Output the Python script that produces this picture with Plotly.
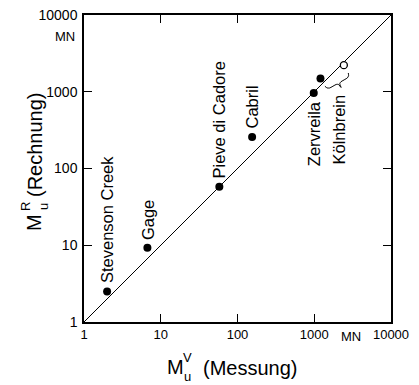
import numpy as np
import plotly.graph_objects as go

# data: measured (x) vs computed (y) ultimate moment, MN
names = ["Stevenson Creek", "Gage", "Pieve di Cadore", "Cabril", "Zervreila"]
measured = [2.0, 6.7, 58, 155, 985]
computed = [2.5, 9.3, 58, 258, 965]

koeln_name = "Kölnbrein"
koeln_filled_x = [1205]
koeln_filled_y = [1490]
koeln_open_x = [2430]
koeln_open_y = [2220]

line_vals = [1, 10000]
tick_vals = [1, 10, 100, 1000, 10000]
tick_text = ["1", "10", "100", "1000", "10000"]
unit = "MN"

FONT = "Liberation Sans, Arial, sans-serif"
BODY = 8  # default page margin of the html body
W, H = 419 - BODY, 385 - BODY
PL, PR, PT, PB = 84, 391, 15, 322  # plot box in page pixels
ML, MR, MT, MB = PL - BODY, BODY + W - PR, PT - BODY, BODY + H - PB
DEC = (PR - PL) / 4.0  # px per decade

fig = go.Figure()

fig.add_trace(go.Scatter(x=line_vals, y=line_vals, mode="lines",
                         line=dict(color="black", width=1), hoverinfo="skip"))
fig.add_trace(go.Scatter(x=measured + koeln_filled_x, y=computed + koeln_filled_y,
                         mode="markers", marker=dict(color="black", size=8)))
fig.add_trace(go.Scatter(x=koeln_open_x, y=koeln_open_y, mode="markers",
                         marker=dict(color="white", size=7, line=dict(color="black", width=1.3))))

# brace joining the two Kölnbrein points (computed from their positions)
p1 = np.log10([koeln_filled_x[0], koeln_filled_y[0]])
p2 = np.log10([koeln_open_x[0], koeln_open_y[0]])
u = p2 - p1
u = u / np.linalg.norm(u)
n = np.array([u[1], -u[0]])  # perpendicular, pointing down-right
a = p1 + n * 9 / DEC
b = p2 + n * 9 / DEC
Lb = np.linalg.norm(b - a)
prof = [(0, 0), (0.04, 2.5), (0.12, 3.8), (0.40, 4.0), (0.47, 5.0), (0.5, 9), (0.53, 5.0),
        (0.60, 4.0), (0.88, 3.8), (0.96, 2.5), (1.0, 0)]
bx, by = [], []
for s, d in prof:
    pt = a + u * s * Lb + n * d / DEC
    bx.append(10 ** pt[0]); by.append(10 ** pt[1])
fig.add_trace(go.Scatter(x=bx, y=by, mode="lines",
                         line=dict(color="black", width=1, shape="spline", smoothing=0.6),
                         hoverinfo="skip"))

LF = dict(family=FONT, size=16.5, color="black")
for nm, xv, yv in zip(names, measured, computed):
    below = nm == "Zervreila"
    fig.add_annotation(x=np.log10(xv), y=np.log10(yv), text=nm, showarrow=False,
                       textangle=-90, xanchor="center",
                       yanchor="top" if below else "bottom",
                       yshift=-6 if below else 6, xshift=1 if below else 0, font=LF)
tip = a + u * 0.5 * Lb + n * 9 / DEC
fig.add_annotation(x=tip[0], y=tip[1], text=koeln_name, showarrow=False,
                   textangle=-90, xanchor="center", yanchor="top", yshift=-5, xshift=-2,
                   font=LF)

# units
UF = dict(family=FONT, size=13, color="black")
fig.add_annotation(x=0, xref="paper", y=1, yref="paper", text=unit, showarrow=False,
                   xanchor="right", yanchor="middle", xshift=-7, yshift=-21, font=UF)
fig.add_annotation(x=1, xref="paper", y=0, yref="paper", text=unit, showarrow=False,
                   xanchor="center", yanchor="top", xshift=-40, yshift=-5, font=UF)


# axis titles built from pieces (M with stacked sub/superscript)
def piece(text, px, py, size, angle=0):
    fig.add_annotation(x=0, xref="paper", y=0, yref="paper", text=text, showarrow=False,
                       xanchor="center", yanchor="middle", textangle=angle,
                       xshift=px - PL, yshift=PB - py,
                       font=dict(family=FONT, size=size, color="black"))


TF = 20
piece("M", 175, 367, TF)
piece("u", 187, 376, 13)
piece("V", 187, 357, 13)
piece("(Messung)", 250, 368, TF)

piece("M", 34, 223, TF, -90)
piece("u", 43, 207, 13, -90)
piece("R", 25, 207, 13, -90)
piece("(Rechnung)", 35, 145, TF, -90)

axis_common = dict(type="log", range=[0, 4], tickvals=tick_vals, ticktext=tick_text,
                   ticks="inside", ticklen=8, tickwidth=1.2, tickcolor="black",
                   showline=True, linecolor="black", linewidth=1.5, mirror="ticks",
                   showgrid=False, zeroline=False, automargin=False,
                   ticklabeloverflow="allow")
fig.update_xaxes(**axis_common, tickfont=dict(family=FONT, size=13, color="black"))
fig.update_yaxes(**axis_common, tickfont=dict(family=FONT, size=14, color="black"),
                 ticklabelstandoff=2)

fig.update_layout(width=W, height=H, margin=dict(l=ML, r=MR, t=MT, b=MB, autoexpand=False),
                  paper_bgcolor="white", plot_bgcolor="white", showlegend=False)

fig.write_html("out.html")
